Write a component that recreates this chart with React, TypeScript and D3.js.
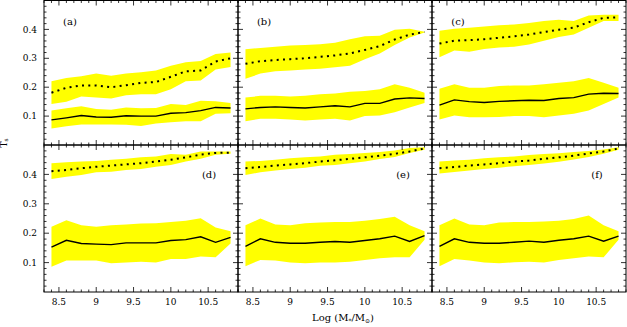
import React from "react";
import * as d3 from "d3";

// log stellar mass bins (x of every curve)
const logMass = [8.4, 8.6, 8.8, 9.0, 9.2, 9.4, 9.6, 9.8, 10.0, 10.2, 10.4, 10.6, 10.8];

// solid curves (median) and their yellow band
const solidA = [0.087, 0.094, 0.102, 0.097, 0.096, 0.101, 0.1, 0.1, 0.11, 0.112, 0.119, 0.13, 0.128];
const solidALow = [0.057, 0.065, 0.071, 0.071, 0.071, 0.07, 0.066, 0.074, 0.079, 0.082, 0.082, 0.108, 0.11];
const solidAHigh = [0.119, 0.127, 0.134, 0.125, 0.122, 0.13, 0.127, 0.128, 0.142, 0.138, 0.153, 0.151, 0.145];
const solidB = [0.125, 0.13, 0.132, 0.13, 0.128, 0.132, 0.136, 0.132, 0.144, 0.144, 0.159, 0.163, 0.161];
const solidBLow = [0.082, 0.091, 0.091, 0.088, 0.085, 0.088, 0.091, 0.085, 0.1, 0.102, 0.113, 0.13, 0.145];
const solidBHigh = [0.164, 0.17, 0.17, 0.168, 0.17, 0.176, 0.178, 0.184, 0.187, 0.193, 0.21, 0.198, 0.181];
const solidC = [0.138, 0.156, 0.15, 0.147, 0.151, 0.153, 0.155, 0.154, 0.161, 0.164, 0.176, 0.179, 0.178];
const solidCLow = [0.088, 0.102, 0.096, 0.096, 0.097, 0.1, 0.1, 0.096, 0.102, 0.108, 0.119, 0.142, 0.164];
const solidCHigh = [0.195, 0.21, 0.198, 0.198, 0.204, 0.206, 0.206, 0.21, 0.215, 0.221, 0.232, 0.215, 0.198];
const solidD = [0.153, 0.176, 0.165, 0.163, 0.161, 0.167, 0.167, 0.167, 0.175, 0.178, 0.188, 0.169, 0.186];
const solidDLow = [0.086, 0.107, 0.107, 0.107, 0.098, 0.1, 0.103, 0.1, 0.112, 0.112, 0.121, 0.118, 0.165];
const solidDHigh = [0.222, 0.244, 0.227, 0.222, 0.227, 0.23, 0.233, 0.234, 0.238, 0.242, 0.251, 0.219, 0.207];
const solidE = [0.155, 0.181, 0.169, 0.166, 0.166, 0.169, 0.172, 0.169, 0.175, 0.181, 0.19, 0.172, 0.192];
const solidELow = [0.088, 0.109, 0.107, 0.1, 0.098, 0.1, 0.1, 0.103, 0.109, 0.115, 0.118, 0.118, 0.178];
const solidEHigh = [0.227, 0.25, 0.23, 0.227, 0.234, 0.236, 0.238, 0.238, 0.242, 0.248, 0.256, 0.227, 0.207];
const solidF = [0.155, 0.181, 0.169, 0.166, 0.166, 0.169, 0.173, 0.169, 0.176, 0.181, 0.19, 0.173, 0.19];
const solidFLow = [0.088, 0.112, 0.107, 0.1, 0.098, 0.101, 0.103, 0.1, 0.109, 0.115, 0.121, 0.118, 0.178];
const solidFHigh = [0.227, 0.25, 0.23, 0.227, 0.236, 0.238, 0.238, 0.24, 0.242, 0.248, 0.26, 0.227, 0.207];

// dotted curves and their yellow band
const dotA = [0.181, 0.198, 0.206, 0.206, 0.2, 0.207, 0.215, 0.218, 0.236, 0.255, 0.258, 0.289, 0.3];
const dotALow = [0.142, 0.15, 0.168, 0.164, 0.161, 0.172, 0.176, 0.176, 0.193, 0.221, 0.223, 0.261, 0.27];
const dotAHigh = [0.221, 0.232, 0.238, 0.247, 0.24, 0.247, 0.252, 0.258, 0.274, 0.286, 0.291, 0.315, 0.32];
const dotB = [0.281, 0.29, 0.294, 0.297, 0.3, 0.305, 0.31, 0.317, 0.329, 0.342, 0.365, 0.382, 0.391];
const dotBLow = [0.229, 0.247, 0.255, 0.258, 0.261, 0.264, 0.269, 0.274, 0.297, 0.317, 0.346, 0.372, 0.389];
const dotBHigh = [0.331, 0.336, 0.34, 0.344, 0.346, 0.349, 0.354, 0.366, 0.376, 0.378, 0.399, 0.402, 0.392];
const dotC = [0.351, 0.361, 0.363, 0.366, 0.371, 0.376, 0.382, 0.391, 0.399, 0.406, 0.425, 0.44, 0.442];
const dotCLow = [0.304, 0.327, 0.323, 0.332, 0.337, 0.34, 0.348, 0.361, 0.374, 0.382, 0.406, 0.429, 0.429];
const dotCHigh = [0.395, 0.402, 0.406, 0.41, 0.414, 0.417, 0.422, 0.429, 0.433, 0.429, 0.448, 0.451, 0.451];
const dotD = [0.411, 0.415, 0.421, 0.426, 0.43, 0.434, 0.438, 0.444, 0.45, 0.458, 0.467, 0.473, 0.474];
const dotDLow = [0.384, 0.392, 0.398, 0.407, 0.409, 0.415, 0.418, 0.426, 0.432, 0.444, 0.453, 0.467, 0.47];
const dotDHigh = [0.438, 0.441, 0.444, 0.446, 0.45, 0.453, 0.458, 0.461, 0.469, 0.467, 0.478, 0.478, 0.478];
const dotE = [0.421, 0.425, 0.43, 0.434, 0.438, 0.444, 0.448, 0.453, 0.458, 0.464, 0.47, 0.478, 0.488];
const dotELow = [0.398, 0.407, 0.413, 0.418, 0.423, 0.429, 0.432, 0.438, 0.444, 0.452, 0.459, 0.473, 0.484];
const dotEHigh = [0.444, 0.446, 0.45, 0.455, 0.458, 0.461, 0.467, 0.469, 0.473, 0.476, 0.481, 0.49, 0.492];
const dotF = [0.421, 0.425, 0.43, 0.434, 0.438, 0.444, 0.447, 0.453, 0.458, 0.464, 0.471, 0.478, 0.488];
const dotFLow = [0.403, 0.408, 0.413, 0.418, 0.423, 0.428, 0.432, 0.437, 0.443, 0.451, 0.459, 0.47, 0.484];
const dotFHigh = [0.444, 0.447, 0.45, 0.455, 0.458, 0.461, 0.466, 0.469, 0.472, 0.476, 0.48, 0.485, 0.492];

const panelLabels = ["(a)", "(b)", "(c)", "(d)", "(e)", "(f)"];
const xTickLabels = [8.5, 9, 9.5, 10, 10.5];
const yTickLabels = [0.1, 0.2, 0.3, 0.4];

const panels = [
  { solid: [solidA, solidALow, solidAHigh], dot: [dotA, dotALow, dotAHigh] },
  { solid: [solidB, solidBLow, solidBHigh], dot: [dotB, dotBLow, dotBHigh] },
  { solid: [solidC, solidCLow, solidCHigh], dot: [dotC, dotCLow, dotCHigh] },
  { solid: [solidD, solidDLow, solidDHigh], dot: [dotD, dotDLow, dotDHigh] },
  { solid: [solidE, solidELow, solidEHigh], dot: [dotE, dotELow, dotEHigh] },
  { solid: [solidF, solidFLow, solidFHigh], dot: [dotF, dotFLow, dotFHigh] },
];

const W = 627, H = 327;
const colEdges = [44, 238, 432, 626];
const rowEdges = [0.5, 145, 292];
const font = "'DejaVu Serif', serif";

const Panel = ({ idx }: { idx: number }) => {
  const col = idx % 3, row = Math.floor(idx / 3);
  const x0 = colEdges[col], x1 = colEdges[col + 1];
  const y0 = rowEdges[row], y1 = rowEdges[row + 1];
  const x = d3.scaleLinear().domain([8.3, 10.9]).range([x0, x1]);
  const y = d3.scaleLinear().domain([0, 0.5]).range([y1, y0]);
  const p = panels[idx];

  const area = (lo: number[], hi: number[]) =>
    d3.area<number>()
      .x((_, i) => x(logMass[i]))
      .y0((_, i) => y(lo[i]))
      .y1((_, i) => y(hi[i]))(logMass);
  const line = (v: number[]) =>
    d3.line<number>()
      .x((_, i) => x(logMass[i]))
      .y((_, i) => y(v[i]))(logMass);

  const xMinor = d3.range(83, 110).map((d) => d / 10);
  const yMinor = d3.range(1, 25).map((d) => d / 50);
  const isMajorX = (v: number) => Math.abs(v * 2 - Math.round(v * 2)) < 1e-6;
  const isMajorY = (v: number) => Math.abs(v * 10 - Math.round(v * 10)) < 1e-6;

  const ticks: JSX.Element[] = [];
  xMinor.forEach((v, i) => {
    const L = isMajorX(v) ? 5 : 2.5;
    const px = x(v);
    ticks.push(<line key={"xb" + i} x1={px} x2={px} y1={y1} y2={y1 - L} />);
    ticks.push(<line key={"xt" + i} x1={px} x2={px} y1={y0} y2={y0 + L} />);
  });
  yMinor.forEach((v, i) => {
    const L = isMajorY(v) ? 5 : 2.5;
    const py = y(v);
    ticks.push(<line key={"yl" + i} x1={x0} x2={x0 + L} y1={py} y2={py} />);
    ticks.push(<line key={"yr" + i} x1={x1} x2={x1 - L} y1={py} y2={py} />);
  });

  return (
    <g>
      <path d={area(p.dot[1], p.dot[2]) || ""} fill="#ffff00" />
      <path d={area(p.solid[1], p.solid[2]) || ""} fill="#ffff00" />
      <path d={line(p.solid[0]) || ""} fill="none" stroke="#000" strokeWidth={1.4} />
      <path d={line(p.dot[0]) || ""} fill="none" stroke="#000" strokeWidth={2} strokeDasharray="2 4.3" />
      <g stroke="#000" strokeWidth={0.8}>{ticks}</g>
      <rect x={x0} y={y0} width={x1 - x0} height={y1 - y0} fill="none" stroke="#000" strokeWidth={1} />
      <text
        x={row === 0 ? x0 + 26 : x1 - 29}
        y={row === 0 ? y0 + 22 : y0 + 30}
        textAnchor="middle"
        dominantBaseline="middle"
        fontSize={10}
        fontFamily={font}
      >
        {panelLabels[idx]}
      </text>
      {col === 0 &&
        yTickLabels.map((v) => (
          <text key={v} x={x0 - 7} y={y(v)} dy="0.35em" textAnchor="end" fontSize={9} fontFamily={font}>
            {v}
          </text>
        ))}
      {row === 1 &&
        xTickLabels.map((v) => (
          <text key={v} x={x(v)} y={y1 + 13} textAnchor="middle" fontSize={9} fontFamily={font}>
            {v}
          </text>
        ))}
    </g>
  );
};

export default function App() {
  return (
    <svg
      width={W}
      height={H}
      style={{ position: "absolute", left: 0, top: 0, background: "#fff" }}
    >
      {panels.map((_, i) => (
        <Panel key={i} idx={i} />
      ))}
      <text x={4} y={143} transform="rotate(-90 4 143)" textAnchor="middle" dominantBaseline="middle" fontSize={9} fontFamily={font}>
        T<tspan fontSize={6} dy={2}>s</tspan>
      </text>
      <text x={343} y={321} textAnchor="middle" fontSize={10} fontFamily={font}>
        Log (M<tspan fontSize={6} dy={2}>*</tspan>
        <tspan dy={-2}>/M</tspan>
        <tspan fontSize={6} dy={2}>⊙</tspan>
        <tspan dy={-2}>)</tspan>
      </text>
    </svg>
  );
}
